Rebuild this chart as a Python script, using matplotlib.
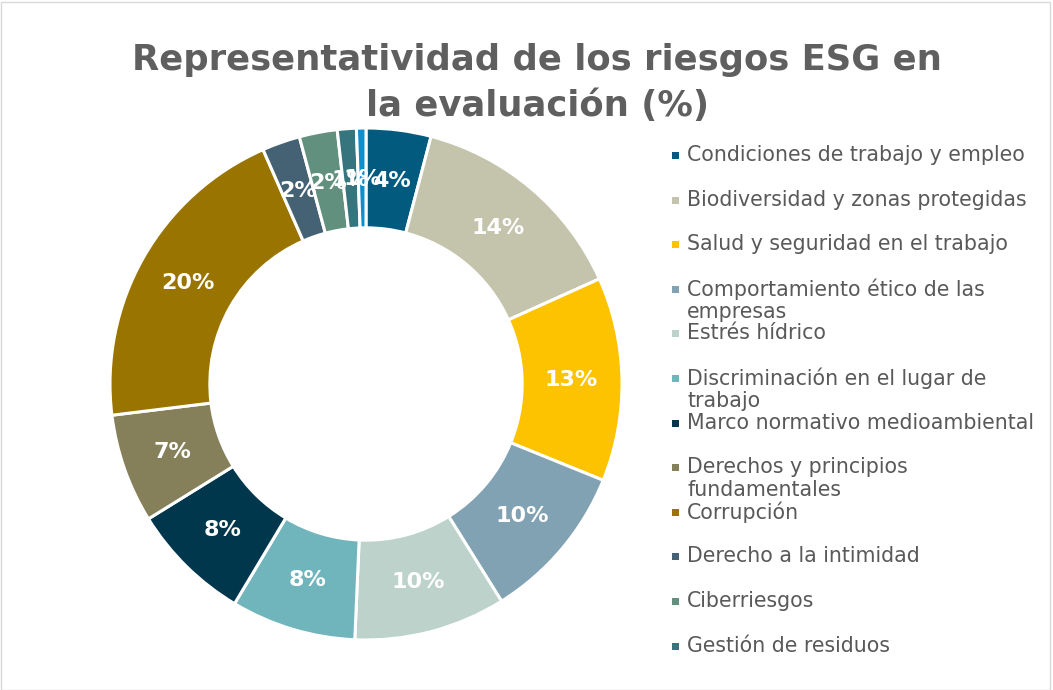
import matplotlib
matplotlib.use("Agg")
import matplotlib.pyplot as plt
from matplotlib.patches import Rectangle

# ---- data ----
categories = [
    "Condiciones de trabajo y empleo",
    "Biodiversidad y zonas protegidas",
    "Salud y seguridad en el trabajo",
    "Comportamiento ético de las\nempresas",
    "Estrés hídrico",
    "Discriminación en el lugar de\ntrabajo",
    "Marco normativo medioambiental",
    "Derechos y principios\nfundamentales",
    "Corrupción",
    "Derecho a la intimidad",
    "Ciberriesgos",
    "Gestión de residuos",
    "Otros",
]
values = [4.1, 14.2, 12.9, 10.0, 9.6, 7.9, 7.6, 6.9, 20.4, 2.4, 2.4, 1.2, 0.6]
colors = ["#025B7F", "#C4C3AC", "#FDC300", "#81A2B3", "#BDD2CA", "#71B5BC",
          "#01374D", "#857F5A", "#997500", "#456275", "#62907F", "#37757E",
          "#0D8FCC"]
legend_count = 12  # only the first 12 entries are visible in the legend
title = "Representatividad de los riesgos ESG en\nla evaluación (%)"

W, H = 1053, 690
fig = plt.figure(figsize=(W / 100, H / 100), dpi=100)
fig.patch.set_facecolor("white")

# donut
cx, cy, R = 366, 384, 256
ax = fig.add_axes([(cx - R) / W, (H - cy - R) / H, 2 * R / W, 2 * R / H])
wedges, texts, autotexts = ax.pie(
    values, colors=colors, startangle=90, counterclock=False,
    autopct=lambda p: f"{p:.0f}%", pctdistance=0.80,
    wedgeprops=dict(width=0.39, edgecolor="white", linewidth=2.2),
    textprops=dict(color="white", fontsize=16, fontweight="bold",
                   family="DejaVu Sans"),
)
ax.set_xlim(-1, 1)
ax.set_ylim(-1, 1)
ax.set_aspect("equal")
ax.axis("off")

# title
fig.text(537 / W, 1 - 83 / H, title, ha="center", va="center",
         fontsize=25.5, fontweight="bold", color="#5F5F5F",
         family="DejaVu Sans", linespacing=1.45)

# legend (manual)
y0, dy = 155, 44.6
for i in range(legend_count):
    y = y0 + i * dy
    fig.patches.append(Rectangle(((672) / W, 1 - (y + 4) / H), 7 / W, 7 / H,
                                 transform=fig.transFigure,
                                 facecolor=colors[i], edgecolor="none"))
    for j, line in enumerate(categories[i].split("\n")):
        fig.text(687 / W, 1 - (y + j * 23) / H, line, ha="left",
                 va="center", fontsize=14.8, color="#595959",
                 family="DejaVu Sans")

# thin frame around chart area
fig.patches.append(Rectangle((0.5 / W, 0.5 / H), (W - 4) / W, (H - 2) / H,
                             transform=fig.transFigure, facecolor="none",
                             edgecolor="#D9D9D9", linewidth=1))

fig.savefig("out.png", dpi=100)
